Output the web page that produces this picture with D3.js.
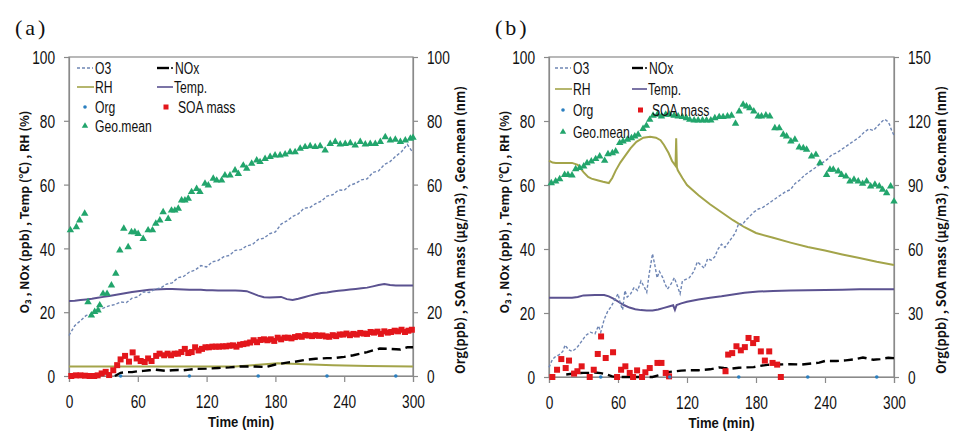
<!DOCTYPE html>
<html><head><meta charset="utf-8">
<script src="https://cdn.jsdelivr.net/npm/d3@7"></script>
<style>
body{margin:0;background:#fff;}
svg{display:block;}
.tick text{font-family:"Liberation Sans",Arial,sans-serif;font-size:18.5px;fill:#111;}
</style></head>
<body><svg id="c" width="962" height="436"></svg>
<script>
// ---------- Panel (a) data ----------
const o3TimeA = [0,5,10,15,20,25,30,35,40,45,50,55,60,65,70,75,80,85,90,95,100,105,110,115,120,125,130,135,140,145,150,155,160,165,170,175,180,185,190,195,200,205,210,215,220,225,230,235,240,245,250,255,260,265,270,275,280,285,290,295,300];
const o3A = [12.7,15.8,17.3,19,19.2,20.8,21.3,22,22.4,23.2,23,24.4,24.8,26.4,26.2,27.2,27.6,28.8,29.2,30.8,31.2,32.6,33.2,34.6,34.2,35.8,36.2,37.4,37.8,39.4,39.6,40.8,41.2,42.8,43.2,44.6,45.2,47.6,48.6,50,50.8,52.6,52.8,54,54.8,56.4,56.8,58.3,58.2,59.8,60.4,61.5,61.8,63.8,64.3,66.3,67.2,68.9,70.3,72.6,70];
const tempTimeA = o3TimeA;
const tempA = [23.5,23.6,23.8,24,24.2,24.5,24.8,25.1,25.4,25.7,26,26.3,26.6,26.8,27,27.1,27.2,27.3,27.3,27.2,27.1,27,27,27,26.9,26.9,26.8,26.8,26.8,26.8,26.7,26.6,25.9,25.2,24.7,24.6,24.7,24.8,24.1,23.8,24.2,24.7,25.2,25.6,26,26.2,26.5,26.7,26.9,27.1,27.3,27.5,27.7,28.1,28.5,28.8,28.5,28.4,28.4,28.4,28.4];
const rhTimeA = [0,60,120,145,165,182,200,230,261,300];
const rhA = [3,3,3,3,3.5,4,3.8,3.4,3.1,3];
const noxTimeA = [40,45,50,55,60,65,70,75,80,85,90,95,100,105,110,120,130,140,150,160,172,180,190,196,205,215,225,231,240,248,260,271,280,289,295,300];
const noxA = [0,1,1.2,1.2,1.5,1.6,1.8,2,1.8,1.6,1.8,1.9,1.8,2,2.2,2.3,2.5,2.7,3,3,2.8,3.6,4.2,4.4,5,5.4,5.6,5.6,6,6.5,7.5,8.6,8.5,8.3,9,9];
const orgTimeA = [45,105,165,225,285];
const orgA = [0,0,0,0,0];
const soaTimeA = [2,6,10,14,18,22,25,28.5,32,35,38.6,42,45,48.9,52.3,55.5,59,62.5,66,69,72,76,79,83,86,89,92,95,98,101,104,107,110,113,116,119,122,125,128,131,134,137,140,143,146,149,152,155,158,161,164,167,170,173,176,179,182,185,188,191,194,197,200,203,206,209,212,215,218,221,224,227,230,233,236,239,242,245,248,251,254,257,260,263,266,269,272,275,278,281,284,287,290,293,296,299];
const soaA = [0,0.2,0.2,0.1,0,0,0.2,0.8,1.3,0.3,1.8,3.4,5.2,6.3,4.5,7.4,5.5,4.7,4.4,5.5,4.7,6.3,7,6.5,7,6.5,7,7,7.5,8.5,7.2,7.5,9,8,8.5,9,9,9.2,9.2,9.2,9.3,9.3,9.5,9.6,9.2,9.8,10,10.2,10.5,11.2,10.6,11.3,11.5,11.2,11.5,11,12,11.5,12,12,11.8,12.2,12.5,12.3,12.8,12.7,12.5,12.8,12.6,12.7,12.4,12.3,12.8,12.5,13,13,13.3,12.8,13.2,13,13.5,13.3,13.2,13.8,13.6,13.9,13.2,14,13.6,13.8,14.2,14,14.5,13.8,14.2,14.5];
const geoTimeA = [1.2,6.4,9.3,13.7,16.6,19.5,22.4,25.3,26.8,29.7,33.2,37,40.8,44.3,47.8,51.6,54.5,57.4,60.3,64.7,69,72.8,75.7,79.2,82.1,86.5,89.4,92.3,95.3,98.2,101.1,104,106.9,111.3,114.2,118.6,121.5,125.8,128.8,133.1,136,140.4,144.8,147.7,152,155,159.3,163.7,166.6,171,175.4,179.7,184.1,188.5,192.8,197.2,201.6,205.9,210.3,214.7,219,223.4,227.8,232.2,236.5,240.9,245.3,249.6,254,258.4,262.7,267.1,271.5,275.8,280.2,284.6,289,293.3,297.7,300];
const geoA = [45.7,46.7,48.8,50.9,23.2,19,20.1,20.6,22.2,25.8,25.8,28.4,32.1,39.4,46.2,40.4,45.1,45.1,44.6,43,45.7,45.7,47.8,48.8,51.4,49.3,51.9,51.9,52.5,55.1,55.1,55.6,57.7,58.7,57.7,60.3,59.8,61.9,61.3,61.3,62.9,62.9,64.5,63.4,66,65,66.6,67.6,67.1,68.1,68.7,69.2,69.2,69.5,70.2,70.2,71.3,71.8,72.1,71.8,72.1,70.7,72.8,73.4,72.6,72.8,73,72.3,73.4,72.6,72.8,72.8,73.4,74.9,73.9,74.1,73.4,73.9,74.4,74.7];

// ---------- Panel (b) data ----------
const o3TimeB = [0,3,6,9,12,14,17,20,24,28,32,36,40,43,45,48,51,54,57,60,62,64,66,68,71,74,77,80,83,85,87,90,92,94,96,99,101,103,106,109,111,114,116,119,122,126,129,132,135,138,141,144,147,150,153,156,159,162,165,168,171,174,178,182,186,190,194,198,202,206,210,214,218,222,226,230,234,238,242,246,250,254,258,262,266,270,274,278,282,286,290,292,294,296,298,300];
const o3B = [3,5.5,6.5,7,8,10,8.5,8,9,11,13,14,13.5,16,14,18,20.5,22,24,26,23,21,27,25,26,28,27,30,28,26.5,32,38.5,35,31,33,31,29,27.5,29,31,29,26,30,30.5,31,33,36,35,34,37,36.5,37.5,40,41.5,40.5,42,43.5,45,48,47.5,49,50,51.5,52.5,53,54,55,56,57,58,58.5,60.5,61.5,63,64,65,66,67,68,69.5,70,71,72,73,74,75,76.5,77.5,77,78.5,80,80.5,80,79,77,75.5];
const rhTimeB = [0,3,6,15,20,25,30,34,37,42,47,52,55,58,62,66,71,76,82,88,93,97,100,104,107,110,110.6,111.2,112,116,120,130,140,150,160,170,180,195,210,225,240,255,270,285,300];
const rhB = [67.6,67,66.9,66.9,66.9,66.3,64,62.5,62,61.5,61,60.6,62.2,64.5,67,69,71.5,73.5,74.8,75.1,74.8,74,72.5,70,67.5,66,74.6,65.5,64.6,62.2,60,56.8,54,51.5,49,46.8,45,43.5,42,40.6,39.5,38.3,37.2,36,35];
const tempTimeB = [0,10,20,25,30,40,48,52,56,60,65,70,75,80,85,90,95,100,105,108,109.5,111,115,120,130,140,150,160,170,182,195,210,225,240,255,270,285,300];
const tempB = [24.8,24.8,24.8,25,25.5,25.6,25.6,25.2,24.5,23.6,22.5,21.7,21.2,20.9,20.8,20.8,21.1,21.6,22.1,22.4,21,22.5,23,23.5,24.2,24.8,25.2,25.8,26.3,26.7,26.9,27,27.1,27.2,27.3,27.4,27.4,27.4];
const noxTimeB = [15,20,25,30,35,40,45,50,55,60,90,95,100,105,110,115,120,130,140,148,152,158,165,172,178,182,190,200,210,220,228,235,240,250,258,265,273,282,288,295,300];
const noxB = [0.8,1,1.2,1.3,1.3,1.4,1.2,0.8,0.2,0,0,0.5,1,1.6,1.8,2,2.1,2.1,2.4,3,2.8,2.6,2.9,3,3.1,3.4,3.8,3.9,4,3.9,4.2,4.5,5,5,5.2,5.5,6.1,5.4,5.6,6,5.9];
const orgTimeB = [45,105,165,225,285];
const orgB = [0,0,0,0,0];
const soaTimeB = [2.9,7,10.7,14.5,17.4,21.8,24.7,28.4,35.4,38.9,42.4,45.3,49.3,55.7,59.2,62.7,66.4,70.2,73.1,76.6,80.9,83.8,87.6,94.3,97.8,101.5,104.4,153.5,155.8,159.3,163,166.8,170.3,173.5,177.5,180.5,184.2,187.7,191.5,194.4,198.4,201.6];
const soaB = [0,3.4,8.4,4.2,7.7,1.6,2.7,5,0,3.4,10.8,19,8.9,11.6,0,3.4,5,1.9,0,3.1,0,2.2,4.2,6.6,6.6,1.9,0.3,2.7,10.5,11.2,14.4,12.5,14,18.3,15.9,17.8,12,7.7,12,6.6,5.8,0];
const geoTimeB = [2,5.8,9.3,13.6,16.5,20,23.2,26.7,30.2,33.1,36.8,40.6,44.1,48.4,51.3,55.1,58,61.5,64.4,68.2,71.7,74.6,77.5,81.8,84.7,87.6,90.5,94.3,97.8,101.5,105,108.8,112.3,116,119.5,122.4,126.2,129.7,133.5,137,140.7,144.2,148,151.4,155.2,158.7,162.2,165.4,168.8,171.7,174.6,178.1,181.9,184.8,188.6,192,196.4,200.2,203.7,206.6,210.3,213.8,217.6,221.1,224,228.3,232.1,235.6,241.4,244.3,247.2,251.5,254.4,258.2,261.7,265.2,268.9,272.7,276.2,279.7,283.4,287.2,290.1,293.6,297.1,300];
const geoB = [90.9,91.7,92.8,94.8,94.8,94.5,97.5,98,98.8,100.3,101.1,102.2,103.4,101.4,104.5,105,105.8,109.7,110.5,111.3,112,112.8,113.6,116.3,117.8,120.6,122.5,123,122.2,123,123,122.5,122.2,121.9,121.4,120.6,120.3,120.3,120.3,120.3,120.3,121.4,121.9,121.9,122.2,122.5,118.8,124.5,127.7,126.9,126.1,124.5,122.2,122.2,122.7,122.2,116.7,116.7,113.6,112.8,110.5,111.3,107.7,107.3,106.6,103.4,104.2,100.3,94.8,97.2,97.2,96.4,94.8,94,91.7,92.5,91.7,90.6,91.7,89.4,90.2,89.4,87.8,86.2,89.4,82.3];

// ---------- Axes / ticks / labels ----------
const xTicks = [0,60,120,180,240,300];
const leftTicks = [0,20,40,60,80,100];
const rightTicksA = [0,20,40,60,80,100];
const rightTicksB = [0,30,60,90,120,150];
const legendLabels = ["O3","NOx","RH","Temp.","Org","SOA mass","Geo.mean"];
const xTitle = "Time (min)";
const leftTitle = "O\u2083 , NOx (ppb) , Temp (\u2103) , RH (%)";
const rightTitleA = "Org(ppb) , SOA mass (\u03bcg/m3) , Geo.mean (nm)";
const rightTitleB = "Org(ppb) , SOA mass (\u03bcg/m3) , Geo.mean (nm)";

const C = {o3:"#6f86b4", nox:"#000000", rh:"#a3a44a", temp:"#5b5290", org:"#2a7fc0", soa:"#e3161b", geo:"#22a56c", axis:"#8a8a8a"};
const sans = '"Liberation Sans",Arial,sans-serif';
const svg = d3.select("#c");

// condense text horizontally (reference uses a narrow font)
function condense(sel, k){
  sel.each(function(){
    const w = this.getComputedTextLength();
    this.setAttribute("textLength", (w*k).toFixed(2));
    this.setAttribute("lengthAdjust","spacingAndGlyphs");
  });
}
function fitLength(sel, target){
  sel.each(function(){
    const fs = parseFloat(this.getAttribute("font-size"));
    const w = this.getComputedTextLength();
    this.setAttribute("font-size", (fs*target/w).toFixed(2)+"px");
  });
}

function panel(o){
  const g = svg.append("g");
  const x = d3.scaleLinear().domain([0,300]).range([o.x0,o.x1]);
  const yL = d3.scaleLinear().domain([0,100]).range([o.y0,o.y1]);
  const yR = d3.scaleLinear().domain([0,o.rMax]).range([o.y0,o.y1]);

  g.append("rect").attr("x",o.x0).attr("y",o.y1).attr("width",o.x1-o.x0).attr("height",o.y0-o.y1)
    .attr("fill","none").attr("stroke",C.axis).attr("stroke-width",1.2);

  const ax = g.append("g").attr("transform",`translate(0,${o.y0})`)
    .call(d3.axisBottom(x).tickValues(xTicks).tickSize(6).tickFormat(d3.format("d")));
  const al = g.append("g").attr("transform",`translate(${o.x0},0)`)
    .call(d3.axisLeft(yL).tickValues(leftTicks).tickSize(5).tickPadding(9));
  const ar = g.append("g").attr("transform",`translate(${o.x1},0)`)
    .call(d3.axisRight(yR).tickValues(o.rTicks).tickSize(5).tickPadding(9));
  [ax,al,ar].forEach(a=>{a.select(".domain").attr("stroke",C.axis).attr("stroke-width",1.2);
    a.selectAll(".tick line").attr("stroke",C.axis).attr("stroke-width",1.2);});
  ax.selectAll(".tick text").attr("y",32).attr("dy",0);
  al.selectAll(".tick text").attr("dy","0.36em");
  ar.selectAll(".tick text").attr("dy","0.36em");
  [ax,al,ar].forEach(a=>condense(a.selectAll(".tick text"),0.74));

  const line = (ys)=>d3.line().x(d=>x(d[0])).y(d=>ys(d[1]));
  const zip = (t,v)=>t.map((tt,i)=>[tt,v[i]]);

  g.append("path").attr("d",line(yL)(zip(o.rhT,o.rh))).attr("fill","none").attr("stroke",C.rh).attr("stroke-width",2);
  g.append("path").attr("d",line(yL)(zip(o.tempT,o.temp))).attr("fill","none").attr("stroke",C.temp).attr("stroke-width",2);
  g.append("path").attr("d",line(yL)(zip(o.o3T,o.o3))).attr("fill","none").attr("stroke",C.o3).attr("stroke-width",1.4).attr("stroke-dasharray","3,2");
  g.append("path").attr("d",line(yL)(zip(o.noxT,o.nox))).attr("fill","none").attr("stroke",C.nox).attr("stroke-width",2.4).attr("stroke-dasharray","9,5");

  g.selectAll(null).data(zip(o.soaT,o.soa)).join("rect")
    .attr("x",d=>x(d[0])-3).attr("y",d=>yR(d[1])-3).attr("width",6).attr("height",6).attr("fill",C.soa);
  g.selectAll(null).data(zip(o.geoT,o.geo)).join("path")
    .attr("d",d3.symbol(d3.symbolTriangle,24)).attr("transform",d=>`translate(${x(d[0])},${yR(d[1])})`).attr("fill",C.geo);
  g.selectAll(null).data(zip(o.orgT,o.org)).join("circle")
    .attr("cx",d=>x(d[0])).attr("cy",d=>yR(d[1])).attr("r",1.8).attr("fill",C.org);

  // legend
  const L = g.append("g").attr("font-family",sans).attr("font-size","16px").attr("fill","#111");
  const c1s=o.x0+o.lg[0], c1t=o.x0+o.lg[1], c2s=o.x0+o.lg[2], c2t=o.x0+o.lg[3];
  const r = o.rows.map(v=>o.y1+v);
  L.append("line").attr("x1",c1s).attr("x2",c1t-2).attr("y1",r[0]).attr("y2",r[0]).attr("stroke",C.o3).attr("stroke-width",1.4).attr("stroke-dasharray","3,2");
  L.append("text").attr("x",c1t).attr("y",r[0]).attr("dy","0.36em").text(legendLabels[0]);
  L.append("line").attr("x1",c2s).attr("x2",c2t-5).attr("y1",r[0]).attr("y2",r[0]).attr("stroke",C.nox).attr("stroke-width",2.4);
  L.append("line").attr("x1",c2t-3).attr("x2",c2t-1).attr("y1",r[0]).attr("y2",r[0]).attr("stroke",C.nox).attr("stroke-width",1.6);
  L.append("text").attr("x",c2t+1).attr("y",r[0]).attr("dy","0.36em").text(legendLabels[1]);
  L.append("line").attr("x1",c1s).attr("x2",c1t-1).attr("y1",r[1]).attr("y2",r[1]).attr("stroke",C.rh).attr("stroke-width",1.6);
  L.append("text").attr("x",c1t).attr("y",r[1]).attr("dy","0.36em").text(legendLabels[2]);
  L.append("line").attr("x1",c2s).attr("x2",c2t-1).attr("y1",r[1]).attr("y2",r[1]).attr("stroke",C.temp).attr("stroke-width",1.6);
  L.append("text").attr("x",c2t).attr("y",r[1]).attr("dy","0.36em").text(legendLabels[3]);
  L.append("circle").attr("cx",(c1s+c1t)/2-1).attr("cy",r[2]).attr("r",1.8).attr("fill",C.org);
  L.append("text").attr("x",c1t).attr("y",r[2]).attr("dy","0.36em").text(legendLabels[4]);
  L.append("rect").attr("x",(c2s+c2t)/2-2).attr("y",r[2]-2.5).attr("width",5).attr("height",5).attr("fill",C.soa);
  L.append("text").attr("x",c2t+4).attr("y",r[2]).attr("dy","0.36em").text(legendLabels[5]);
  L.append("path").attr("d",d3.symbol(d3.symbolTriangle,18)).attr("transform",`translate(${(c1s+c1t)/2-1},${r[3]})`).attr("fill",C.geo);
  L.append("text").attr("x",c1t).attr("y",r[3]).attr("dy","0.36em").text(legendLabels[6]);
  condense(L.selectAll("text"),0.76);

  // titles
  const xt = g.append("text").attr("x",(o.x0+o.x1)/2).attr("y",o.y0+51).attr("text-anchor","middle")
    .attr("font-family",sans).attr("font-weight","bold").attr("font-size","14.5px").attr("fill","#111").text(xTitle);
  xt.attr("textLength",66).attr("lengthAdjust","spacingAndGlyphs");
  const lt = g.append("text").attr("transform",`translate(${o.x0-40},${o.lty}) rotate(-90)`).attr("text-anchor","middle")
    .attr("font-family",'"Noto Sans CJK KR","Noto Sans",sans-serif').attr("font-weight","bold").attr("font-size","12px").attr("fill","#111").text(leftTitle);
  fitLength(lt,203);
  const rt = g.append("text").attr("transform",`translate(${o.x1+52},${o.rty}) rotate(-90)`).attr("text-anchor","middle")
    .attr("font-family",'"Noto Sans CJK KR","Noto Sans",sans-serif').attr("font-weight","bold").attr("font-size","12px").attr("fill","#111").text(o.rTitle);
  fitLength(rt,288);
  g.append("text").attr("x",o.x0-54).attr("y",o.y1-22).attr("font-family",'"Liberation Serif",serif')
    .attr("font-size","22px").attr("letter-spacing","3px").attr("fill","#111").text(o.label);
}

panel({x0:69,x1:413,y0:376,y1:57,rMax:100,rTicks:rightTicksA,rTitle:rightTitleA,label:"(a)",
  lg:[8,26,88,105],rows:[11,30,50,69],lty:212,rty:230,
  o3T:o3TimeA,o3:o3A,tempT:tempTimeA,temp:tempA,rhT:rhTimeA,rh:rhA,noxT:noxTimeA,nox:noxA,
  orgT:orgTimeA,org:orgA,soaT:soaTimeA,soa:soaA,geoT:geoTimeA,geo:geoA});
panel({x0:549,x1:894,y0:377,y1:57,rMax:150,rTicks:rightTicksB,rTitle:rightTitleB,label:"(b)",
  lg:[6,24,83,99],rows:[11,32,53,75],lty:212,rty:230,
  o3T:o3TimeB,o3:o3B,tempT:tempTimeB,temp:tempB,rhT:rhTimeB,rh:rhB,noxT:noxTimeB,nox:noxB,
  orgT:orgTimeB,org:orgB,soaT:soaTimeB,soa:soaB,geoT:geoTimeB,geo:geoB});
</script></body></html>
